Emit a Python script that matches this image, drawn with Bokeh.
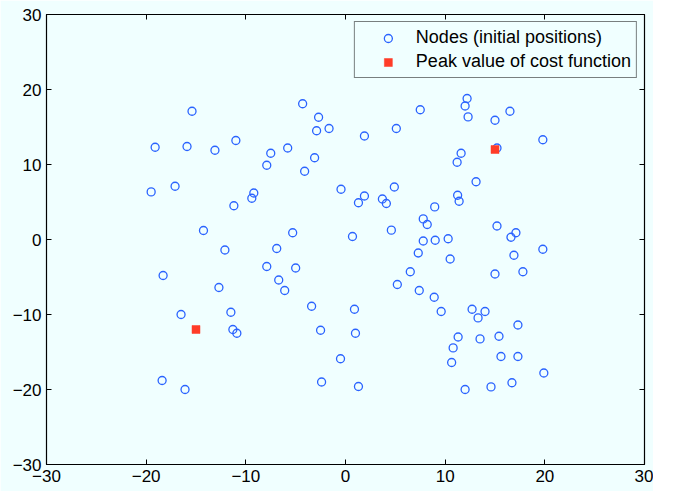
from bokeh.plotting import figure
from bokeh.models import Range1d, LinearAxis, FixedTicker, Legend, LegendItem, ColumnDataSource
from bokeh.embed import file_html
from bokeh.resources import INLINE

node_x = [-15.4, -19.1, -15.9, -13.1, -11.0, -19.5, -17.1, -9.2, -9.4, -11.2,
          -14.25, -4.3, -2.7, -2.9, -1.65, 1.9, -7.5, -5.8, -7.9, -3.1,
          -4.1, -0.45, 1.9, 1.3, 3.7, 4.1, 4.9, -5.3, 0.7, 4.6,
          12.2, 12.0, 12.3, 7.5, 5.1, 15.0, 16.5, 15.2, 11.6, 11.2,
          13.1, 11.25, 11.4, 8.95, 7.8, 8.2, 15.2, 19.8, 17.1, 16.6,
          -12.1, -18.3, -12.7, -16.5, -11.5, -11.3, -10.9, -18.4, -16.1, -6.9,
          -7.9, -5.0, -6.7, -6.1, -3.4, 0.9, -2.5, 1.0, -0.5, -2.4,
          1.3, 7.8, 9.0, 10.3, 7.3, 10.5, 6.5, 5.2, 7.4, 8.9,
          9.6, 12.7, 14.0, 13.3, 15.0, 16.9, 11.3, 10.8, 10.65, 13.5,
          15.4, 15.6, 17.3, 17.3, 12.0, 14.6, 16.7, 17.8, 19.8, 19.9]
node_y = [17.1, 12.3, 12.4, 11.9, 13.2, 6.35, 7.1, 6.2, 5.5, 4.5,
          1.2, 18.1, 16.3, 14.5, 14.8, 13.8, 11.5, 12.2, 9.9, 10.9,
          9.1, 6.7, 5.8, 4.9, 5.4, 4.8, 7.0, 0.9, 0.4, 1.25,
          18.8, 17.8, 16.35, 17.3, 14.8, 15.9, 17.1, 12.2, 11.5, 10.3,
          7.7, 5.9, 5.1, 4.35, 2.75, 2.0, 1.8, 13.3, 0.9, 0.3,
          -1.4, -4.8, -6.4, -10.0, -9.7, -12.0, -12.5, -18.8, -20.0, -1.2,
          -3.6, -3.8, -5.4, -6.8, -8.9, -9.3, -12.1, -12.5, -15.9, -19.0,
          -19.6, -0.2, -0.1, 0.1, -1.8, -2.6, -4.3, -6.0, -6.8, -7.7,
          -9.6, -9.3, -9.6, -10.45, -4.6, -2.1, -13.0, -14.45, -16.4, -13.25,
          -12.9, -15.6, -15.6, -11.4, -20.0, -19.65, -19.1, -4.3, -1.3, -17.8]

peak_x = [15, -15]
peak_y = [12, -12]

tick_values = [-30, -20, -10, 0, 10, 20, 30]
tick_labels = ["\u221230", "\u221220", "\u221210", "0", "10", "20", "30"]

BG = "#f0ffff"
FONT = "Liberation Sans"

p = figure(width=653, height=491, output_backend="svg", toolbar_location=None,
           x_range=Range1d(-30, 30), y_range=Range1d(-30, 30),
           x_axis_location=None, y_axis_location=None,
           min_border_left=46, min_border_right=9, min_border_top=14, min_border_bottom=27)
p.background_fill_color = BG
p.border_fill_color = BG
p.outline_line_color = "black"
p.xgrid.visible = False
p.ygrid.visible = False

overrides = {v: s for v, s in zip(tick_values, tick_labels)}
blank = {v: "" for v in tick_values}

def style_axis(ax, labels):
    ax.ticker = FixedTicker(ticks=tick_values)
    ax.minor_tick_line_color = None
    ax.major_tick_in = 5
    ax.major_tick_out = 0
    ax.axis_line_color = "black"
    ax.axis_line_width = 1.2
    ax.major_tick_line_color = "black"
    ax.major_tick_line_width = 1
    if labels:
        ax.major_label_overrides = overrides
        ax.major_label_text_font = FONT
        ax.major_label_text_font_size = "17px"
        ax.major_label_text_color = "black"
        ax.major_label_standoff = 5
    else:
        ax.major_label_overrides = blank
        ax.major_label_text_font_size = "0px"
        ax.major_label_standoff = 0

for loc, lab in (("below", True), ("left", True), ("above", False), ("right", False)):
    ax = LinearAxis()
    style_axis(ax, lab)
    p.add_layout(ax, loc)

src_nodes = ColumnDataSource(dict(x=node_x, y=node_y))
src_peak = ColumnDataSource(dict(x=peak_x, y=peak_y))

r_nodes = p.scatter("x", "y", source=src_nodes, marker="circle", size=8,
                    fill_color=None, line_color="#2a63ff", line_width=1.3)
r_peak = p.scatter("x", "y", source=src_peak, marker="square", size=8,
                   fill_color="#ff3c28", line_color="#ff3c28", line_width=0.5)

legend = Legend(items=[LegendItem(label="Nodes (initial positions)", renderers=[r_nodes]),
                       LegendItem(label="Peak value of cost function", renderers=[r_peak])],
                location="top_right", margin=7)
legend.label_text_font = FONT
legend.label_text_font_size = "18px"
legend.label_text_color = "black"
legend.label_height = 20
legend.glyph_height = 20
legend.glyph_width = 56
legend.label_standoff = 0
legend.spacing = 3
legend.padding = 5
legend.border_line_color = "black"
legend.border_line_width = 1
legend.background_fill_color = BG
legend.background_fill_alpha = 1.0
p.add_layout(legend, "center")

html = file_html(p, INLINE)
with open("out.html", "w") as f:
    f.write(html)
